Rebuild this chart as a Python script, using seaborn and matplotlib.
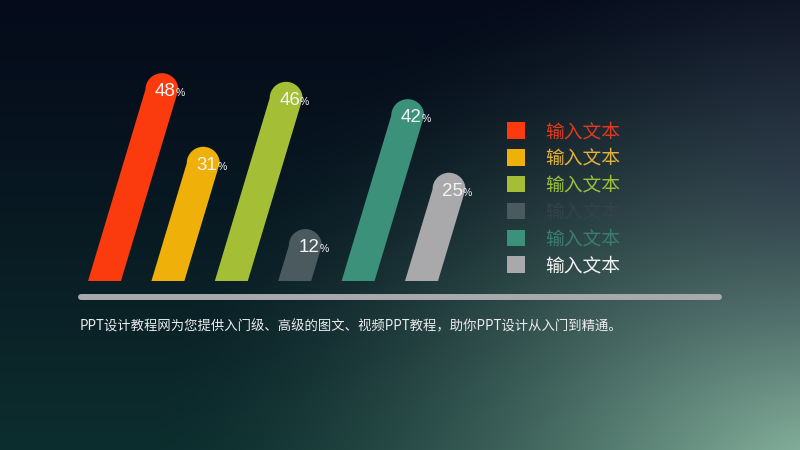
import numpy as np
import pandas as pd
import matplotlib
matplotlib.use("Agg")
import matplotlib.pyplot as plt
import seaborn as sns
from matplotlib.path import Path
from matplotlib.patches import PathPatch, Patch
from matplotlib.lines import Line2D
from matplotlib.transforms import IdentityTransform

# ---- data ----
categories = ["A", "B", "C", "D", "E", "F"]
values = [48, 31, 46, 12, 42, 25]
legend_labels = ["输入文本"] * 6
bar_colors = ["#fb3a0e", "#efb00a", "#a4bf35", "#4b5a5f", "#3b9179", "#a9a9ab"]
legend_text_colors = ["#e23a1c", "#e2b23a", "#9dc03c", "#34424a", "#3b7d6e", "#f2f2f2"]
footer_text = "PPT设计教程网为您提供入门级、高级的图文、视频PPT教程，助你PPT设计从入门到精通。"

W, H, DPI = 800, 450, 100
sns.set_theme(style="white")
plt.rcParams["font.family"] = ["Noto Sans CJK SC", "DejaVu Sans"]

fig = plt.figure(figsize=(W / DPI, H / DPI), dpi=DPI)

# ---- background gradient ----
bg = fig.add_axes([0, 0, 1, 1])
yy, xx = np.mgrid[0:H, 0:W].astype(float)
t = (yy / H) ** 1.2
top = np.array([5, 11, 26]) / 255
bot = np.array([13, 46, 46]) / 255
base = top[None, None, :] * (1 - t[..., None]) + bot[None, None, :] * t[..., None]
d = np.hypot(xx - 830, (yy - 490) * 1.2) / 680
g = np.clip(1 - d, 0, 1) ** 1.6
glow = np.array([150, 195, 172]) / 255
img = base * (1 - g[..., None]) + glow[None, None, :] * g[..., None]
dp = np.hypot(xx - 820, yy - 160) / 380
gp = np.clip(1 - dp, 0, 1) ** 2 * 0.4
purple = np.array([45, 45, 78]) / 255
img = img * (1 - gp[..., None]) + purple[None, None, :] * gp[..., None]
bg.imshow(np.clip(img, 0, 1), aspect="auto", extent=[0, W, H, 0])
bg.set_xlim(0, W); bg.set_ylim(H, 0)
bg.axis("off")

# ---- bars ----
px_per_unit = 4.33
base_px = 281
left_px, right_px = 72.8, 453.2
ax = fig.add_axes([left_px / W, (H - base_px) / H, (right_px - left_px) / W, 50 * px_per_unit / H])
df = pd.DataFrame({"cat": categories, "val": values})
sns.barplot(data=df, x="cat", y="val", hue="cat", palette=bar_colors, legend=False,
            width=0.52, ax=ax, saturation=1)
ax.set_xlim(-0.5, 5.5)
ax.set_ylim(0, 50)
ax.axis("off")
ax.patch.set_alpha(0)

shear = 0.30
trans = ax.transData
for p, v, c in zip(list(ax.patches), values, bar_colors):
    x0d, y0d = p.get_x(), p.get_y()
    x1d, y1d = x0d + p.get_width(), y0d + p.get_height()
    (X0, Y0), (X1, Y1) = trans.transform([(x0d, y0d), (x1d, y1d)])
    w = X1 - X0
    r = w / 2
    yc = Y1 - r
    off = shear * (yc - Y0)
    cx = X0 + w / 2 + off
    arc = Path.arc(0, 180)
    arc_v = arc.vertices * np.array([r, r]) + np.array([cx, yc])
    verts = [(X0, Y0), (X1, Y0), (X1 + off, yc)] + [tuple(a) for a in arc_v[1:]] + [(X0, Y0)]
    codes = [Path.MOVETO, Path.LINETO, Path.LINETO] + list(arc.codes[1:]) + [Path.CLOSEPOLY]
    patch = PathPatch(Path(verts, codes), facecolor=c, edgecolor="none",
                      transform=IdentityTransform())
    fig.add_artist(patch)
    p.set_visible(False)
    # labels
    topx = X0 + w / 2 + shear * (Y1 - Y0)
    fig.text((topx + 9) / W, (Y1 - 23) / H, f"{v}", ha="right", va="baseline",
             fontsize=13.5, color="#f4f4f4", family=["Liberation Sans", "DejaVu Sans"])
    fig.text((topx + 9) / W, (Y1 - 23) / H, "%", ha="left", va="baseline",
             fontsize=7.5, color="#f4f4f4", family=["Liberation Sans", "DejaVu Sans"])

# ---- legend ----
handles = [Patch(facecolor=c, edgecolor="none") for c in bar_colors]
leg = fig.legend(handles, legend_labels, loc="upper left",
                 bbox_to_anchor=(507 / W, 1 - 121 / H), frameon=False,
                 labelcolor=legend_text_colors, fontsize=13.5,
                 handlelength=0.96, handleheight=0.96, handletextpad=1.07,
                 labelspacing=0.31, borderaxespad=0, borderpad=0)

# ---- baseline ----
fig.add_artist(Line2D([81 / W, 719 / W], [1 - 296.5 / H] * 2, color="#a8a9ad",
                      linewidth=4.3, solid_capstyle="round"))

# ---- footer ----
fig.text(80 / W, 1 - 326 / H, footer_text, ha="left", va="center", fontsize=9.6,
         color="#ececec", family=["Noto Sans CJK SC", "DejaVu Sans"])

fig.savefig("out.png", dpi=DPI)
